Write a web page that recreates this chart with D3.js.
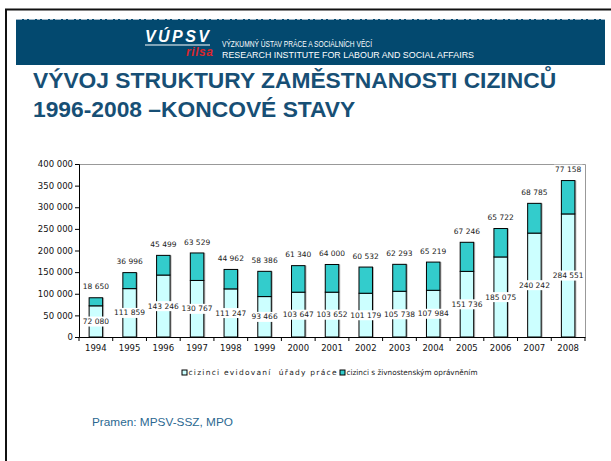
<!DOCTYPE html>
<html><head><meta charset="utf-8">
<script src="https://cdn.jsdelivr.net/npm/d3@7/dist/d3.min.js"></script>
<style>body{margin:0;background:#fff}svg{display:block}</style>
</head><body>
<svg id="c" width="611" height="461"></svg>
<script>
const years = ["1994","1995","1996","1997","1998","1999","2000","2001","2002","2003","2004","2005","2006","2007","2008"];
const uradyPrace = [72080,111859,143246,130767,111247,93466,103647,103652,101179,105738,107984,151736,185075,240242,284551];
const zivnost = [18650,36996,45499,63529,44962,58386,61340,64000,60532,62293,65219,67246,65722,68785,77158];
const seriesNames = ["cizinci evidovaní  úřady práce","cizinci s živnostenským oprávněním"];
const yTicks = [0,50000,100000,150000,200000,250000,300000,350000,400000];
const titleLines = ["VÝVOJ STRUKTURY ZAMĚSTNANOSTI CIZINCŮ","1996-2008 –KONCOVÉ STAVY"];
const bannerLines = ["VÝZKUMNÝ ÚSTAV PRÁCE A SOCIÁLNÍCH VĚCÍ","RESEARCH INSTITUTE FOR LABOUR AND SOCIAL AFFAIRS"];
const sourceText = "Pramen: MPSV-SSZ, MPO";

const svg = d3.select("#c");
const fmt = d3.formatLocale({decimal:",",thousands:"\u00a0",grouping:[3],currency:["",""]}).format(",d");

// outer frame
svg.append("path").attr("d","M6,461 V9.5 H611").attr("fill","none").attr("stroke","#111").attr("stroke-width",2);

// banner
svg.append("rect").attr("x",16).attr("y",19).attr("width",589).attr("height",46).attr("fill","#03496f");
svg.append("line").attr("x1",16).attr("x2",605).attr("y1",19.5).attr("y2",19.5).attr("stroke","#9fb6c6").attr("stroke-width",1).attr("stroke-dasharray","6,2,3,2");
const logo = svg.append("g");
logo.append("text").attr("x",145).attr("y",42).attr("fill","#fff").attr("font-family","Liberation Sans, Arial").attr("font-weight","bold").attr("font-style","italic").attr("font-size",16).attr("textLength",64).text("VÚPSV");
logo.append("line").attr("x1",145).attr("x2",210).attr("y1",45).attr("y2",45).attr("stroke","#fff").attr("stroke-width",1.2);
logo.append("text").attr("x",186).attr("y",56).attr("fill","#d8262d").attr("font-family","Liberation Sans, Arial").attr("font-weight","bold").attr("font-style","italic").attr("font-size",12).attr("textLength",27).text("rilsa");
svg.append("text").attr("x",222).attr("y",46.5).attr("fill","#fff").attr("font-family","Liberation Sans, Arial").attr("font-size",8.5).attr("textLength",150).attr("lengthAdjust","spacingAndGlyphs").text(bannerLines[0]);
svg.append("text").attr("x",222).attr("y",57.5).attr("fill","#fff").attr("font-family","Liberation Sans, Arial").attr("font-size",8.5).attr("textLength",252).attr("lengthAdjust","spacingAndGlyphs").text(bannerLines[1]);

// title
svg.selectAll("text.title").data(titleLines).join("text").attr("class","title")
  .attr("x",33).attr("y",(d,i)=>88+i*29)
  .attr("fill","#174f75").attr("font-family","Liberation Sans, Arial").attr("font-weight","bold").attr("font-size",22.8)
  .text(d=>d);

// chart
const L=79,R=585,T=164,B=337;
const x = d3.scaleBand().domain(years).range([L,R]).paddingInner(0.6).paddingOuter(0.3);
const xb = d3.scaleBand().domain(years).range([L,R]);
const y = d3.scaleLinear().domain([0,400000]).range([B,T]);

// plot border top/right
svg.append("path").attr("d",`M${L},${T+0.5} H${R+0.5} V${B}`).attr("fill","none").attr("stroke","#999").attr("stroke-width",1);

// bars
const g = svg.append("g");
years.forEach((yr,i)=>{
  const a=uradyPrace[i], b=zivnost[i];
  const bx=x(yr), w=x.bandwidth();
  g.append("rect").attr("x",bx+1.5).attr("y",y(a+b)).attr("width",w).attr("height",B-y(a+b)).attr("fill","#888").attr("opacity",0.6);
  g.append("rect").attr("x",bx).attr("y",y(a)).attr("width",w).attr("height",B-y(a)).attr("fill","#ccffff").attr("stroke","#000").attr("stroke-width",1);
  g.append("rect").attr("x",bx).attr("y",y(a+b)).attr("width",w).attr("height",y(a)-y(a+b)).attr("fill","#33cccc").attr("stroke","#000").attr("stroke-width",1);
});

// axes
const yAxis = d3.axisLeft(y).tickValues(yTicks).tickFormat(fmt).tickSize(4).tickPadding(2);
const ya = svg.append("g").attr("transform",`translate(${L},0)`).call(yAxis);
ya.select(".domain").attr("stroke","#000");
ya.selectAll("text").attr("font-family","DejaVu Sans, Verdana").attr("font-size",8.5).attr("fill","#111");

const xAxis = d3.axisBottom(xb).tickSize(0).tickPadding(8);
const xa = svg.append("g").attr("transform",`translate(0,${B})`).call(xAxis);
xa.select(".domain").attr("stroke","#000");
xa.selectAll("text").attr("font-family","DejaVu Sans, Verdana").attr("font-size",8.5).attr("fill","#111");
const bounds = years.map(d=>xb(d)).concat([R]);
xa.selectAll("line.bt").data(bounds).join("line").attr("class","bt")
  .attr("x1",d=>d).attr("x2",d=>d).attr("y1",0).attr("y2",4).attr("stroke","#000");

// labels
function label(txt,cx,cy){
  const t = svg.append("text").attr("x",cx).attr("y",cy).attr("dy","0.35em").attr("text-anchor","middle")
    .attr("font-family","DejaVu Sans, Verdana").attr("font-size",7.5).attr("fill","#222").text(txt);
  const bb = t.node().getBBox();
  svg.insert("rect",()=>t.node()).attr("x",bb.x-1).attr("y",bb.y-0.5).attr("width",bb.width+2).attr("height",bb.height+1).attr("fill","#fff");
}
years.forEach((yr,i)=>{
  const a=uradyPrace[i], b=zivnost[i];
  const cx = x(yr)+x.bandwidth()/2;
  label(fmt(a),cx,(y(0)+y(a))/2);
  label(fmt(b),cx,y(a+b)-11);
});

// legend
const lg = svg.append("g").attr("font-family","DejaVu Sans, Verdana").attr("font-size",7.5).attr("fill","#222");
const legX=[182,340];
seriesNames.forEach((n,i)=>{
  lg.append("rect").attr("x",legX[i]).attr("y",370).attr("width",5).attr("height",5).attr("fill",i?"#33cccc":"#ccffff").attr("stroke","#000").attr("stroke-width",1);
  const t = lg.append("text").attr("x",legX[i]+6.5).attr("y",372.5).attr("dy","0.35em").style("white-space","pre").text(n);
  if(i===0) t.attr("textLength",148).attr("lengthAdjust","spacing");
  else t.attr("textLength",131).attr("lengthAdjust","spacingAndGlyphs");
});

// source
svg.append("text").attr("x",92).attr("y",422).attr("dy","0.35em").attr("fill","#2b6891").attr("font-family","Liberation Sans, Arial").attr("font-size",11.8).text(sourceText);
</script>
</body></html>
